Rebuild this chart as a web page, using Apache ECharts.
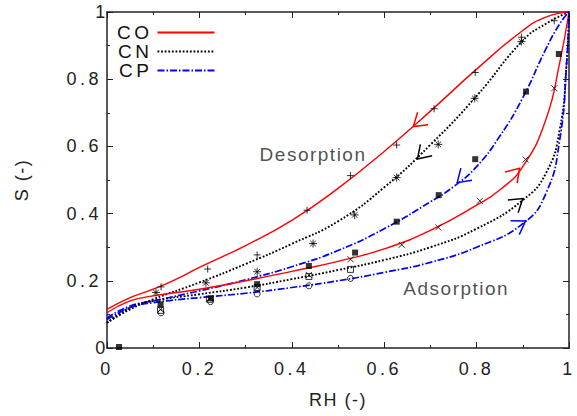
<!DOCTYPE html>
<html><head><meta charset="utf-8">
<script src="https://cdn.jsdelivr.net/npm/echarts@6/dist/echarts.min.js"></script>
<style>html,body{margin:0;padding:0;background:#fff}#c{width:577px;height:416px;letter-spacing:1.5px}</style>
</head><body><div id="c"></div>
<script>
// Fitted curves [RH, S]
const coDesCurve = [[0,0.115],[0.05,0.15],[0.1,0.175],[0.15,0.205],[0.2,0.24],[0.3,0.305],[0.4,0.38],[0.5,0.475],[0.6,0.585],[0.7,0.705],[0.8,0.83],[0.9,0.945],[0.95,0.985],[1,1]];
const cnDesCurve = [[0,0.075],[0.05,0.115],[0.1,0.145],[0.2,0.195],[0.3,0.25],[0.4,0.31],[0.5,0.377],[0.6,0.478],[0.7,0.605],[0.8,0.75],[0.9,0.915],[0.95,0.965],[1,1]];
const cpDesCurve = [[0,0.09],[0.05,0.125],[0.1,0.14],[0.2,0.17],[0.3,0.203],[0.4,0.242],[0.5,0.29],[0.6,0.355],[0.7,0.435],[0.75,0.48],[0.8,0.54],[0.85,0.63],[0.9,0.745],[0.95,0.89],[0.98,0.965],[1,1]];
const coAdsCurve = [[0,0.105],[0.05,0.14],[0.1,0.155],[0.2,0.175],[0.3,0.2],[0.4,0.228],[0.5,0.258],[0.6,0.295],[0.7,0.35],[0.8,0.425],[0.85,0.47],[0.9,0.54],[0.95,0.68],[0.98,0.85],[1,1]];
const cnAdsCurve = [[0,0.075],[0.05,0.12],[0.1,0.14],[0.2,0.16],[0.3,0.18],[0.4,0.205],[0.5,0.232],[0.6,0.262],[0.7,0.3],[0.8,0.355],[0.9,0.44],[0.95,0.52],[0.98,0.65],[0.995,0.85],[1,1]];
const cpAdsCurve = [[0,0.085],[0.05,0.12],[0.1,0.135],[0.2,0.15],[0.3,0.163],[0.4,0.18],[0.5,0.2],[0.6,0.225],[0.7,0.255],[0.8,0.3],[0.9,0.37],[0.95,0.46],[0.98,0.62],[0.995,0.85],[1,1]];
// Measured points [RH, S]
const coDesPts = [[0.117,0.182],[0.218,0.235],[0.325,0.277],[0.433,0.41],[0.527,0.513],[0.627,0.604],[0.708,0.712],[0.797,0.82],[0.897,0.925],[0.968,0.974]];
const cnDesPts = [[0.106,0.165],[0.214,0.194],[0.325,0.227],[0.446,0.311],[0.536,0.396],[0.627,0.507],[0.717,0.606],[0.796,0.743],[0.897,0.912]];
const cpDesPts = [[0.026,0.003],[0.116,0.13],[0.225,0.148],[0.325,0.19],[0.437,0.244],[0.537,0.284],[0.627,0.376],[0.718,0.455],[0.797,0.562],[0.907,0.763],[0.978,0.875]];
const coAdsPts = [[0.116,0.115],[0.222,0.148],[0.325,0.18],[0.437,0.217],[0.527,0.264],[0.638,0.307],[0.717,0.359],[0.807,0.438],[0.906,0.561],[0.968,0.773]];
const cnAdsPts = [[0.116,0.112],[0.222,0.145],[0.325,0.18],[0.437,0.213],[0.527,0.234]];
const cpAdsPts = [[0.117,0.105],[0.224,0.138],[0.325,0.161],[0.437,0.185],[0.527,0.207]];
// Arrows: [tipRH, tipS, tailRH, tailS]
const arrows = [[0.663,0.659,0.72,0.725],[0.672,0.5625,0.72,0.63],[0.758,0.492,0.8,0.545],[0.893,0.535,0.85,0.47],[0.9,0.445,0.85,0.39],[0.906,0.378,0.85,0.33]];
const arrowColors = ['#ff0000','#000000','#0000ff','#ff0000','#000000','#0000ff'];
const annotations = [{name:'Desorption', value:[0.446,0.576]},{name:'Adsorption', value:[0.756,0.176]}];
const legendNames = ['CO','CN','CP'];

const FONT = 'Liberation Sans';
const RED='#ff0000', BLK='#000000', BLU='#0000ff';
const plus = 'path://M0,-1L0,1M-1,0L1,0';
const star = 'path://M0,-1L0,1M-1,0L1,0M-0.7,-0.7L0.7,0.7M-0.7,0.7L0.7,-0.7';
const cross = 'path://M-1,-1L1,1M-1,1L1,-1';
const fmt = v => (v===0||v===1) ? String(v) : v.toFixed(1);

function axisBase(pos, showLabel){
  return {type:'value', min:0, max:1, interval:0.2, position:pos,
    axisLine:{show:true, onZero:false, lineStyle:{color:'#222', width:1.5}},
    axisTick:{show:true, inside:true, length:6, lineStyle:{color:'#222', width:1}},
    minorTick:{show:true, splitNumber:2, length:3, lineStyle:{color:'#222', width:1}},
    splitLine:{show:false},
    axisLabel:{show:showLabel, formatter:fmt, fontFamily:FONT, fontSize:18, color:'#222',
      alignMinLabel:'center', alignMaxLabel:'center'}};
}
const xb = axisBase('bottom', true); xb.axisLabel.margin = 12; xb.name='RH (-)'; xb.nameLocation='middle'; xb.nameGap=43; xb.nameTextStyle={fontFamily:FONT,fontSize:18,color:'#222'};
const yl = axisBase('left', true); yl.axisLabel.margin = 5; yl.name='S (-)'; yl.nameLocation='middle'; yl.nameGap=76; yl.nameTextStyle={fontFamily:FONT,fontSize:18,color:'#222'};
yl.axisLabel.alignMinLabel = 'middle'; yl.axisLabel.alignMaxLabel = 'middle';

function lineS(name, data, color, type, width){
  return {name, type:'line', data, smooth:0.5, symbol:'none', showSymbol:false,
    lineStyle:{color, type, width}, itemStyle:{color}, silent:true, z:2};
}
function ptS(name, data, symbol, size, filled){
  return {name, type:'scatter', data, symbol, symbolSize:size, silent:true, z:3,
    itemStyle: filled ? {color:'#000'} : {color:'rgba(0,0,0,0)', borderColor:'#000', borderWidth:1}};
}

const chart = echarts.init(document.getElementById('c'), null, {renderer:'svg'});
chart.setOption({
  animation:false,
  backgroundColor:'#fff',
  grid:{left:107, right:5, top:12, bottom:68},
  xAxis:[xb, axisBase('top', false)],
  yAxis:[yl, axisBase('right', false)],
  legend:{data:legendNames, orient:'vertical', left:119, top:18, align:'right', itemWidth:57, itemHeight:12, itemGap:0,
    itemStyle:{opacity:0}, textStyle:{fontFamily:FONT, fontSize:19, color:'#111'}, selectedMode:false},
  series:[
    lineS('CO', coDesCurve, RED, 'solid', 1.4),
    lineS('CN', cnDesCurve, BLK, [1.8,1.8], 1.9),
    lineS('CP', cpDesCurve, BLU, [7,2,1.5,2], 1.7),
    lineS('CO', coAdsCurve, RED, 'solid', 1.4),
    lineS('CN', cnAdsCurve, BLK, [1.8,1.8], 1.9),
    lineS('CP', cpAdsCurve, BLU, [7,2,1.5,2], 1.7),
    ptS('CO des', coDesPts, plus, 7, false),
    ptS('CN des', cnDesPts, star, 8, false),
    ptS('CP des', cpDesPts, 'rect', 6, true),
    ptS('CO ads', coAdsPts, cross, 6, false),
    ptS('CN ads', cnAdsPts, 'rect', 6, false),
    ptS('CP ads', cpAdsPts, 'circle', 6, false),
    {name:'arrows', type:'custom', data:arrows, silent:true, z:4,
      renderItem:function(params, api){
        const tip = api.coord([api.value(0), api.value(1)]);
        const tail = api.coord([api.value(2), api.value(3)]);
        const ang = Math.atan2(tail[1]-tip[1], tail[0]-tip[0]);
        const L = 15, a = 0.58;
        return {type:'polyline', shape:{points:[
          [tip[0]+L*Math.cos(ang+a), tip[1]+L*Math.sin(ang+a)], tip,
          [tip[0]+L*Math.cos(ang-a), tip[1]+L*Math.sin(ang-a)]]},
          style:{stroke:arrowColors[params.dataIndex], fill:null, lineWidth:1.5}};
      }},
    {name:'labels', type:'scatter', data:annotations, symbolSize:0, silent:true, z:5,
      label:{show:true, position:'inside', formatter:'{b}', fontFamily:FONT, fontSize:19, color:'#222'}}
  ]
});
// wider tracking for tick labels and legend texts, as in the reference
document.querySelectorAll('#c svg text').forEach(t => {
  const s = t.textContent.trim();
  if (/^[0-9.]+$/.test(s)) t.style.letterSpacing = '3.5px';
  else if (legendNames.indexOf(s) >= 0) t.style.letterSpacing = '3.5px';
});
</script></body></html>
